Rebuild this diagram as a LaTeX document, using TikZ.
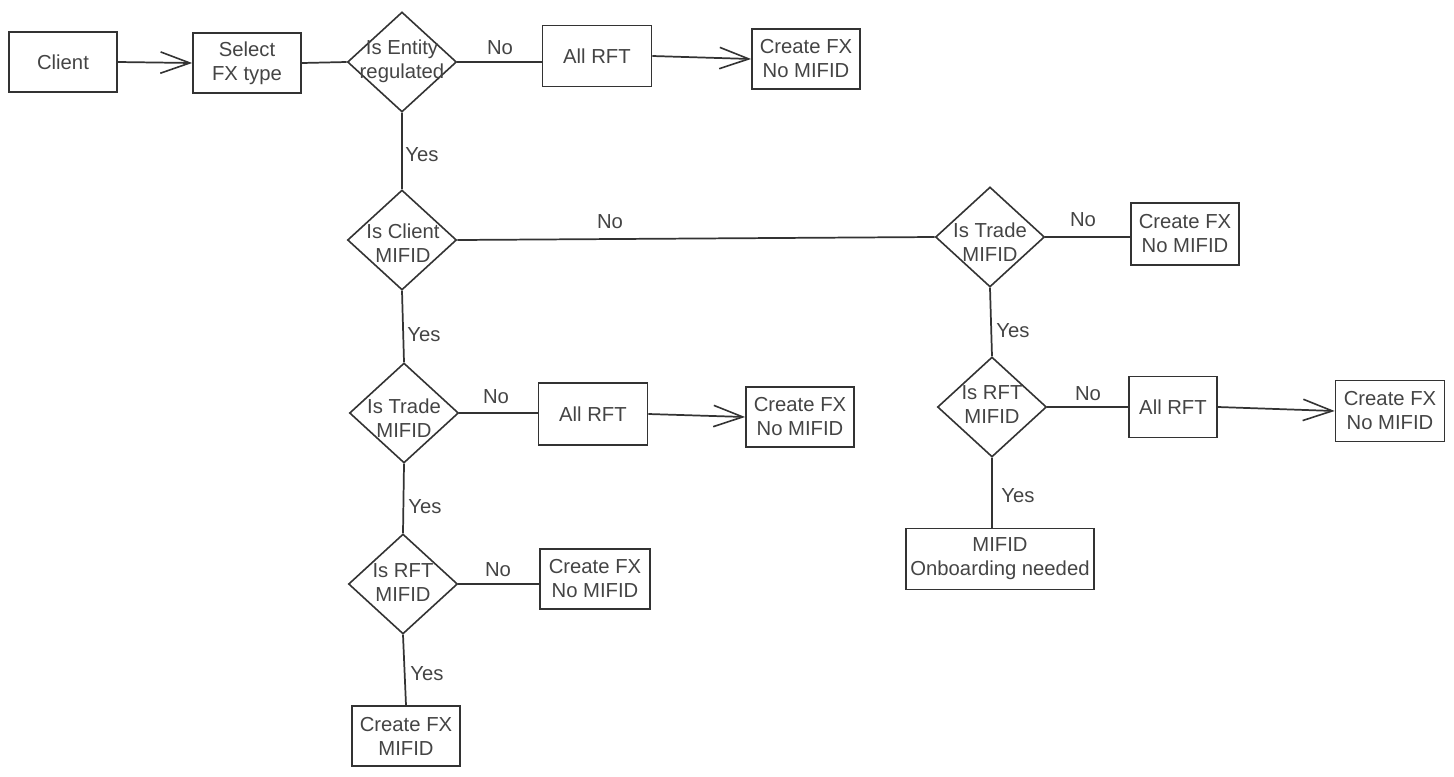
\documentclass[tikz,border=0pt]{standalone}
\usepackage{fontspec}
\setmainfont{Liberation Sans}
\usetikzlibrary{shapes.geometric,arrows.meta}
\definecolor{ink}{HTML}{333333}
\definecolor{txt}{HTML}{444444}
\begin{document}
\begin{tikzpicture}[x=0.75pt,y=-0.75pt,
  every node/.style={font=\fontsize{15.2}{18}\selectfont, text=txt},
  box/.style={draw=ink, line width=1.3pt, rectangle, minimum width=81pt, minimum height=45pt, align=center, inner sep=0pt},
  dia/.style={draw=ink, line width=1.2pt, diamond, minimum width=81.75pt, minimum height=75pt, inner sep=0pt},
  dtext/.style={align=center, inner sep=0pt},
  lbl/.style={inner sep=0pt},
  conn/.style={draw=ink, line width=1.3pt},
  arr/.style={conn, -{Straight Barb[length=22pt, width=16pt, line width=1.2pt]}}
]
\useasboundingbox (0,0) rectangle (1454,776);

% top row
\node[box] (client) at (63,62) {Client};
\node[box] (select) at (247,63) {Select\\FX type};
\node[dia] (d1) at (402,62) {};
\node[dtext] (d1t) at (402,61) {Is Entity\\regulated};
\node[box, minimum width=81.75pt, minimum height=45.75pt] (rft1) at (597,56) {All RFT};
\node[box] (cfx1) at (806,59) {Create FX\\No MIFID};

% left column
\node[dia] (d2) at (402,240) {};
\node[dtext] (d2t) at (403,243) {Is Client\\MIFID};
\node[dia] (d3) at (404,413) {};
\node[dtext] (d3t) at (404,418) {Is Trade\\MIFID};
\node[box, minimum width=81.75pt, minimum height=47pt] (rft2) at (593,414) {All RFT};
\node[box] (cfx2) at (800,417) {Create FX\\No MIFID};
\node[dia] (d4) at (403,584) {};
\node[dtext] (d4t) at (403,583) {Is RFT\\MIFID};
\node[box, minimum width=82.5pt] (cfx3) at (595,579) {Create FX\\No MIFID};
\node[box] (cfx4) at (406,736) {Create FX\\MIFID};

% right column
\node[dia] (d5) at (990,237) {};
\node[dtext] (d5t) at (990,242) {Is Trade\\MIFID};
\node[box, minimum height=46.5pt] (cfx5) at (1185,234) {Create FX\\No MIFID};
\node[dia] (d6) at (992,407) {};
\node[dtext] (d6t) at (992,405) {Is RFT\\MIFID};
\node[box, minimum width=66pt, minimum height=45.75pt] (rft3) at (1173,407) {All RFT};
\node[box, minimum width=81.75pt, minimum height=45.75pt] (cfx6) at (1390,411) {Create FX\\No MIFID};
\node[box, minimum width=141pt, minimum height=45.75pt] (onb) at (1000,559) {MIFID\\Onboarding needed};

% connectors
\draw[arr] (client.east) -- (select.west);
\draw[conn] (select.east) -- (d1.west);
\draw[conn] (d1.east) -- (d1.east -| rft1.west);
\draw[arr] (rft1.east) -- (cfx1.west);
\draw[conn] (d1.south) -- (d2.north);
\draw[conn] (d2.east) -- (d5.west);
\draw[conn] (d2.south) -- (d3.north);
\draw[conn] (d3.east) -- (d3.east -| rft2.west);
\draw[arr] (rft2.east) -- (cfx2.west);
\draw[conn] (d3.south) -- (d4.north);
\draw[conn] (d4.east) -- (d4.east -| cfx3.west);
\draw[conn] (d4.south) -- (cfx4.north);
\draw[conn] (d5.east) -- (d5.east -| cfx5.west);
\draw[conn] (d5.south) -- (d6.north);
\draw[conn] (d6.east) -- (d6.east -| rft3.west);
\draw[arr] (rft3.east) -- (cfx6.west);
\draw[conn] (d6.south) -- (d6.south |- onb.north);

% labels
\node[lbl] (l1) at (500,48) {No};
\node[lbl] (l2) at (422,155) {Yes};
\node[lbl] (l3) at (610,222) {No};
\node[lbl] (l4) at (1083,220) {No};
\node[lbl] (l5) at (1013,331) {Yes};
\node[lbl] (l6) at (1088,394) {No};
\node[lbl] (l7) at (1018,496) {Yes};
\node[lbl] (l8) at (424,335) {Yes};
\node[lbl] (l9) at (496,397) {No};
\node[lbl] (l10) at (425,507) {Yes};
\node[lbl] (l11) at (498,570) {No};
\node[lbl] (l12) at (427,674) {Yes};
\end{tikzpicture}
\end{document}
